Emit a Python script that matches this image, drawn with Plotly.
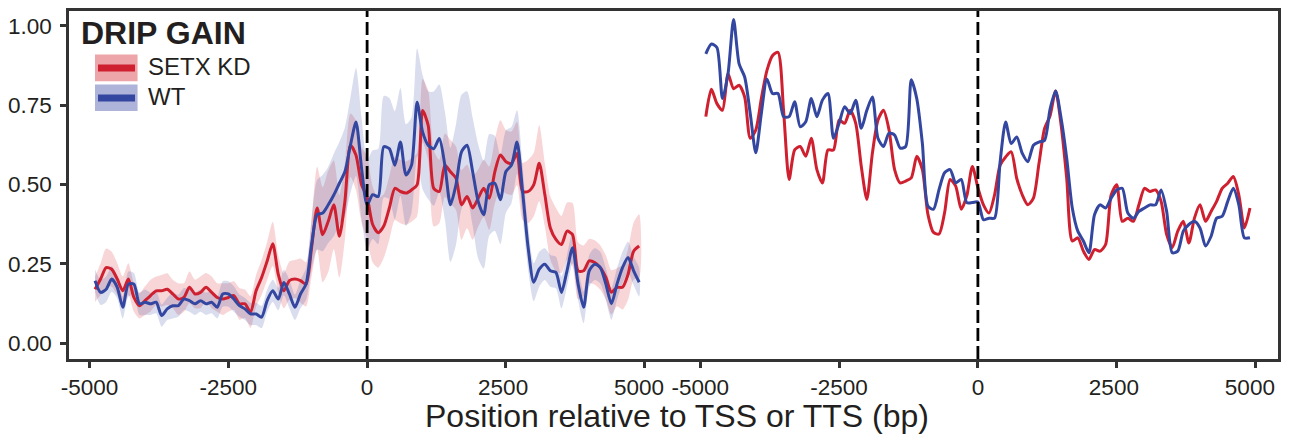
import plotly.graph_objects as go

# positions (bp) relative to TSS / TTS
positions = list(range(-4900, 5000, 100))

# TSS panel
tss_kd = [0.170, 0.202, 0.238, 0.233, 0.202, 0.165, 0.202, 0.144, 0.118, 0.134,
          0.150, 0.165, 0.165, 0.170, 0.155, 0.139, 0.144, 0.176, 0.155, 0.160,
          0.176, 0.160, 0.144, 0.139, 0.144, 0.150, 0.124, 0.124, 0.098, 0.165,
          0.207, 0.259, 0.313, 0.217, 0.165, 0.197, 0.202, 0.197, 0.186, 0.301,
          0.426, 0.342, 0.384, 0.436, 0.337, 0.447, 0.624, 0.592, 0.499,
          0.460, 0.374, 0.348, 0.369, 0.426, 0.488, 0.478, 0.473, 0.483, 0.499,
          0.733, 0.686, 0.488, 0.478, 0.561, 0.540, 0.520, 0.436, 0.462, 0.426,
          0.457, 0.488, 0.457, 0.540, 0.593, 0.572, 0.567, 0.598, 0.478, 0.478,
          0.499, 0.567, 0.469, 0.363, 0.327, 0.311, 0.353, 0.342, 0.228, 0.228,
          0.259, 0.254, 0.238, 0.207, 0.160, 0.176, 0.176, 0.217, 0.290, 0.306]
tss_wt = [0.197, 0.160, 0.170, 0.202, 0.176, 0.113, 0.186, 0.186, 0.124, 0.129,
          0.124, 0.129, 0.087, 0.108, 0.118, 0.118, 0.139, 0.134, 0.124, 0.134,
          0.124, 0.129, 0.113, 0.155, 0.155, 0.139, 0.118, 0.108, 0.092, 0.092,
          0.082, 0.134, 0.165, 0.139, 0.191, 0.155, 0.113, 0.155, 0.186, 0.311,
          0.405, 0.410, 0.436, 0.467, 0.504, 0.540, 0.624, 0.697, 0.551,
          0.436, 0.468, 0.462, 0.619, 0.613, 0.561, 0.634, 0.530, 0.561, 0.759,
          0.665, 0.624, 0.613, 0.645, 0.561, 0.436, 0.499, 0.603, 0.624, 0.541,
          0.447, 0.405, 0.499, 0.504, 0.452, 0.541, 0.561, 0.634, 0.478, 0.301,
          0.192, 0.233, 0.249, 0.228, 0.223, 0.160, 0.228, 0.301, 0.186, 0.113,
          0.228, 0.249, 0.238, 0.186, 0.124, 0.186, 0.238, 0.270, 0.228, 0.192]
# ribbon half-widths (TSS panel)
tss_kd_err = [0.04, 0.05, 0.06, 0.055, 0.05, 0.045, 0.05, 0.045, 0.04, 0.045,
              0.05, 0.045, 0.05, 0.05, 0.045, 0.05, 0.045, 0.05, 0.045, 0.05,
              0.045, 0.05, 0.045, 0.05, 0.045, 0.045, 0.05, 0.045, 0.05, 0.05,
              0.055, 0.06, 0.07, 0.06, 0.055, 0.06, 0.06, 0.07, 0.07, 0.09,
              0.13, 0.15, 0.16, 0.14, 0.13, 0.12, 0.10, 0.11, 0.12, 0.13,
              0.12, 0.11, 0.10, 0.10, 0.10, 0.10, 0.10, 0.10, 0.10, 0.10,
              0.11, 0.12, 0.10, 0.10, 0.10, 0.10, 0.11, 0.10, 0.10, 0.09,
              0.09, 0.10, 0.10, 0.11, 0.10, 0.10, 0.10, 0.09, 0.10, 0.10,
              0.12, 0.10, 0.10, 0.10, 0.09, 0.09, 0.10, 0.09, 0.08, 0.07,
              0.07, 0.07, 0.07, 0.07, 0.06, 0.07, 0.08, 0.09, 0.10]
tss_wt_err = [0.035, 0.04, 0.04, 0.04, 0.035, 0.035, 0.04, 0.035, 0.035, 0.04,
              0.035, 0.035, 0.035, 0.035, 0.04, 0.035, 0.035, 0.035, 0.035, 0.035,
              0.035, 0.035, 0.035, 0.04, 0.04, 0.04, 0.035, 0.035, 0.035, 0.035,
              0.035, 0.035, 0.035, 0.035, 0.04, 0.045, 0.04, 0.045, 0.05, 0.08,
              0.11, 0.12, 0.12, 0.13, 0.13, 0.14, 0.15, 0.17, 0.16, 0.14,
              0.14, 0.15, 0.16, 0.16, 0.17, 0.17, 0.16, 0.15, 0.17, 0.18,
              0.17, 0.18, 0.17, 0.17, 0.18, 0.19, 0.18, 0.17, 0.17, 0.18,
              0.17, 0.16, 0.15, 0.14, 0.13, 0.12, 0.10, 0.08, 0.07, 0.06,
              0.055, 0.05, 0.05, 0.05, 0.05, 0.05, 0.05, 0.05, 0.05, 0.05,
              0.05, 0.05, 0.05, 0.05, 0.05, 0.05, 0.05, 0.045, 0.045]

# TTS panel
tts_kd = [0.714, 0.800, 0.755, 0.734, 0.849, 0.802, 0.813, 0.776, 0.646, 0.672,
          0.771, 0.859, 0.906, 0.917, 0.734, 0.516, 0.609, 0.620, 0.589, 0.646,
          0.547, 0.505, 0.609, 0.609, 0.703, 0.693, 0.734, 0.693, 0.557, 0.453,
          0.599, 0.703, 0.734, 0.672, 0.547, 0.505, 0.511, 0.521, 0.589, 0.547,
          0.406, 0.349, 0.344, 0.411, 0.516, 0.495, 0.422, 0.464, 0.557,
          0.490, 0.436, 0.410, 0.467, 0.561, 0.587, 0.603, 0.519, 0.467, 0.436,
          0.457, 0.566, 0.676, 0.717, 0.795, 0.686, 0.519, 0.322, 0.332, 0.290,
          0.264, 0.295, 0.290, 0.311, 0.467, 0.499, 0.384, 0.394, 0.384, 0.436,
          0.488, 0.478, 0.483, 0.447, 0.342, 0.301, 0.353, 0.384, 0.316, 0.394,
          0.436, 0.384, 0.415, 0.447, 0.488, 0.504, 0.525, 0.467, 0.363, 0.426]
tts_wt = [0.912, 0.943, 0.932, 0.771, 0.849, 1.020, 0.880, 0.839, 0.724, 0.600,
          0.724, 0.833, 0.787, 0.787, 0.714, 0.714, 0.761, 0.682, 0.698, 0.771,
          0.714, 0.766, 0.787, 0.646, 0.693, 0.745, 0.724, 0.766, 0.677, 0.734,
          0.776, 0.646, 0.620, 0.662, 0.656, 0.615, 0.620, 0.830, 0.770, 0.630,
          0.432, 0.422, 0.484, 0.537, 0.547, 0.505, 0.516, 0.443, 0.443,
          0.445, 0.389, 0.394, 0.394, 0.571, 0.697, 0.629, 0.650, 0.598, 0.572,
          0.624, 0.634, 0.639, 0.738, 0.795, 0.707, 0.582, 0.426, 0.353, 0.322,
          0.285, 0.405, 0.436, 0.426, 0.457, 0.483, 0.488, 0.410, 0.394, 0.415,
          0.426, 0.436, 0.436, 0.483, 0.415, 0.285, 0.290, 0.353, 0.374, 0.384,
          0.363, 0.306, 0.337, 0.394, 0.400, 0.447, 0.488, 0.436, 0.332, 0.332]

tick_bp = [-5000, -2500, 0, 2500, 5000]
tick_labels = ["-5000", "-2500", "0", "2500", "5000"]
y_ticks = [0.0, 0.25, 0.5, 0.75, 1.0]
y_tick_labels = ["0.00", "0.25", "0.50", "0.75", "1.00"]

TTS_OFFSET = 11000  # horizontal shift of the TTS panel on the shared axis

RED = "#cf2030"
BLUE = "#3447a0"
RED_FILL = "rgba(222,60,70,0.21)"
BLUE_FILL = "rgba(55,75,165,0.19)"
FONT = "Liberation Sans, Arial, Helvetica, sans-serif"
INK = "#231f20"
SMOOTH = dict(shape="spline", smoothing=0.7)

fig = go.Figure()


def ribbon(x, mean, err, fill):
    upper = [m + e for m, e in zip(mean, err)]
    lower = [m - e for m, e in zip(mean, err)]
    fig.add_trace(go.Scatter(x=x + x[::-1], y=upper + lower[::-1], fill="toself",
                             fillcolor=fill, line=dict(width=0, **SMOOTH), mode="lines",
                             hoverinfo="skip", showlegend=False))


ribbon(positions, tss_kd, tss_kd_err, RED_FILL)
ribbon(positions, tss_wt, tss_wt_err, BLUE_FILL)

tts_x = [p + TTS_OFFSET for p in positions]
for x, kd, wt in [(positions, tss_kd, tss_wt), (tts_x, tts_kd, tts_wt)]:
    fig.add_trace(go.Scatter(x=x, y=kd, mode="lines", line=dict(color=RED, width=3, **SMOOTH),
                             name="SETX KD", showlegend=False))
    fig.add_trace(go.Scatter(x=x, y=wt, mode="lines", line=dict(color=BLUE, width=3, **SMOOTH),
                             name="WT", showlegend=False))

# dashed lines at TSS and TTS
for x0 in [0, TTS_OFFSET]:
    fig.add_shape(type="line", x0=x0, x1=x0, y0=0, y1=1, xref="x", yref="paper",
                  line=dict(color="black", width=2.8, dash="13px,5px"))

all_tickvals = tick_bp + [t + TTS_OFFSET for t in tick_bp]


def pad(label):
    # positive labels sit slightly left of their tick in the reference
    if label == "5000":
        return label + "\u2002"
    if label == "2500":
        return label + "\u2005"
    return label


all_ticktext = [pad(t) for t in tick_labels] * 2

axis_common = dict(showline=True, mirror=True, linecolor="#333333", linewidth=2.5,
                   ticks="outside", ticklen=6, tickwidth=2.5, tickcolor="#333333",
                   showgrid=False, zeroline=False,
                   tickfont=dict(family=FONT, size=22.5, color=INK))
fig.update_xaxes(range=[-5369, 16405], tickvals=all_tickvals, ticktext=all_ticktext,
                 tickangle=0, **axis_common)
fig.update_yaxes(range=[-0.05, 1.047], tickvals=y_ticks, ticktext=y_tick_labels,
                 ticklabelstandoff=4, **axis_common)

# custom legend
fig.add_shape(type="rect", xref="paper", yref="paper", x0=0.0215, x1=0.0567, y0=0.798, y1=0.875,
              fillcolor="#eda5a9", line=dict(width=0))
fig.add_shape(type="rect", xref="paper", yref="paper", x0=0.0215, x1=0.0567, y0=0.713, y1=0.789,
              fillcolor="#adb3d9", line=dict(width=0))
fig.add_shape(type="line", xref="paper", yref="paper", x0=0.024, x1=0.0546, y0=0.836, y1=0.836,
              line=dict(color=RED, width=7))
fig.add_shape(type="line", xref="paper", yref="paper", x0=0.024, x1=0.0546, y0=0.750, y1=0.750,
              line=dict(color=BLUE, width=7))

fig.add_annotation(text="<b>DRIP GAIN</b>", xref="paper", yref="paper", x=0.0085, y=0.937,
                   xanchor="left", yanchor="middle", showarrow=False,
                   font=dict(family=FONT, size=32, color=INK))
fig.add_annotation(text="SETX KD", xref="paper", yref="paper", x=0.0634, y=0.841,
                   xanchor="left", yanchor="middle", showarrow=False,
                   font=dict(family=FONT, size=24, color=INK))
fig.add_annotation(text="WT", xref="paper", yref="paper", x=0.0634, y=0.755,
                   xanchor="left", yanchor="middle", showarrow=False,
                   font=dict(family=FONT, size=24, color=INK))
fig.add_annotation(text="Position relative to TSS or TTS (bp)", xref="paper", yref="paper",
                   x=0.503, y=-0.107, xanchor="center", yanchor="top", showarrow=False,
                   font=dict(family=FONT, size=32, color=INK))

# the page body adds an 8px offset; margins compensate so the plot frame lands
# at x 69..1278, y 8..359 in the browser window
fig.update_layout(width=1299, height=437, margin=dict(l=61, r=29, t=0, b=86),
                  plot_bgcolor="white", paper_bgcolor="white", showlegend=False)

fig.write_html("out.html")
